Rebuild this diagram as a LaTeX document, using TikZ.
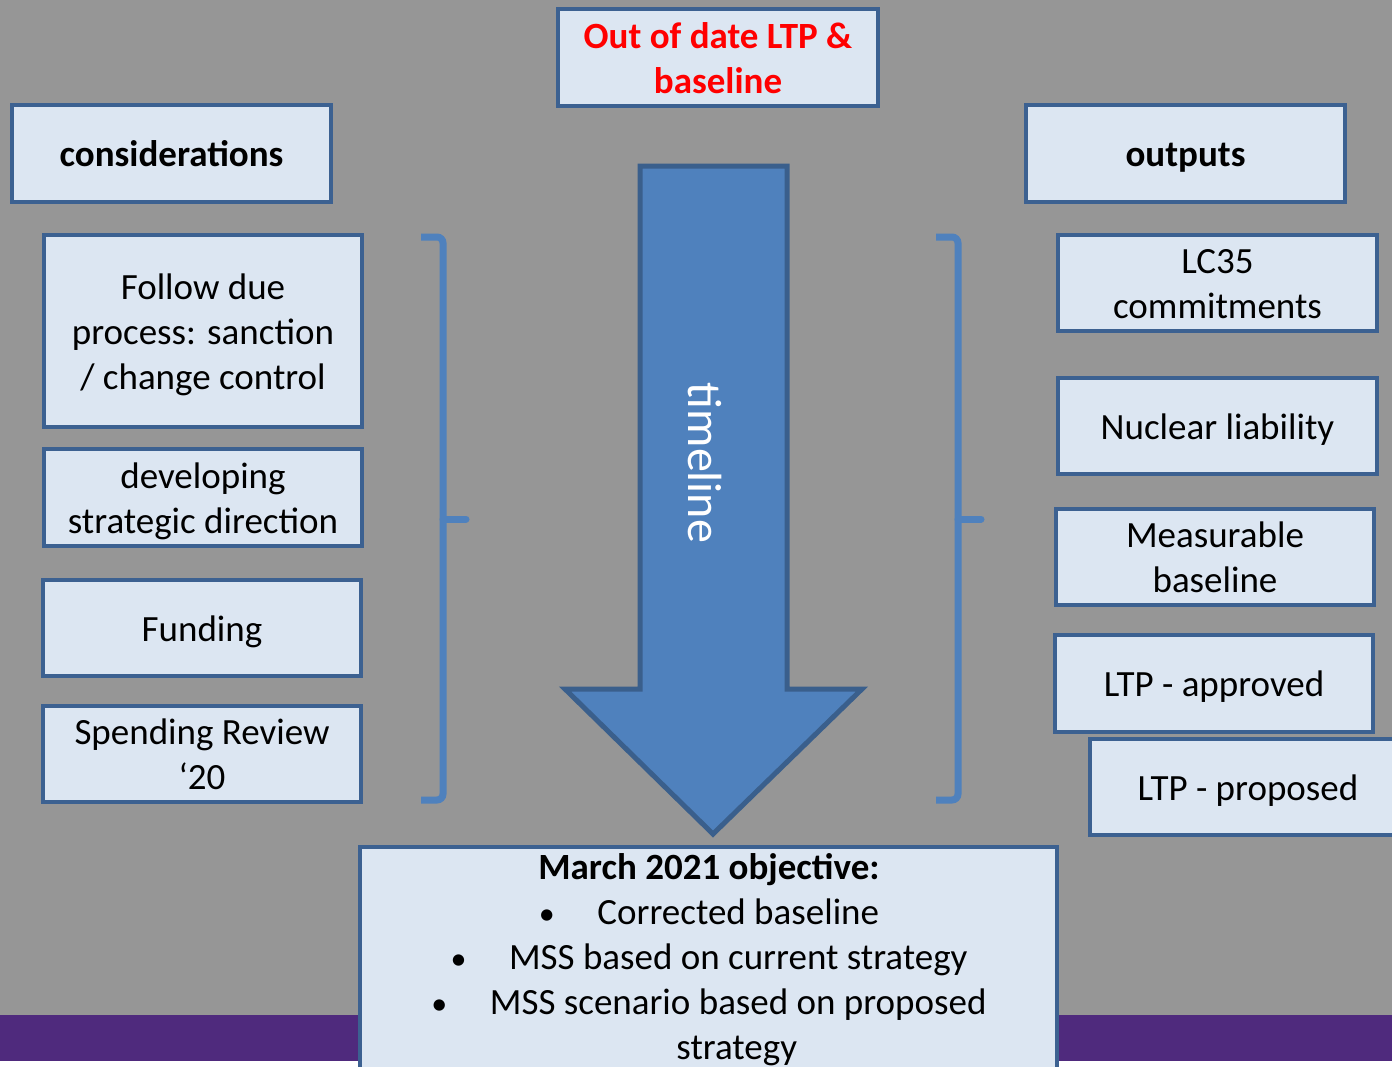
\documentclass[tikz,border=0pt]{standalone}
\usepackage{fontspec}
\setmainfont{Carlito}
\definecolor{bggray}{HTML}{969696}
\definecolor{boxfill}{HTML}{DCE6F2}
\definecolor{boxline}{HTML}{3C6191}
\definecolor{arrowfill}{HTML}{4F81BD}
\definecolor{arrowline}{HTML}{3A5F8C}
\definecolor{barpurple}{HTML}{4F2A7D}
\begin{document}
\begin{tikzpicture}[x=1pt,y=-1pt,
  box/.style={draw=boxline,fill=boxfill,line width=4pt,inner sep=0pt,
    align=flush center,text width=300pt,font=\fontsize{37}{45}\selectfont,
    execute at begin node={\rule{0pt}{35.5pt}},
    execute at end node={\rule[-9.5pt]{0pt}{9.5pt}}},
  brace/.style={draw=arrowfill,line width=7pt,rounded corners=6pt,line cap=butt}]
\useasboundingbox (0,0) rectangle (1392,1066);
\clip (0,0) rectangle (1392,1066);
% background and footer band
\fill[bggray] (0,0) rectangle (1392,1066);
\fill[barpurple] (0,1015) rectangle (1392,1061);
\fill[white] (0,1061) rectangle (1392,1066);

% header boxes
\node[box,minimum width=320pt,minimum height=97pt,text=red,font=\fontsize{37}{45}\selectfont\bfseries]
  (ood) at (718,57.5) {Out of date LTP \&\\baseline};
\node[box,minimum width=319pt,minimum height=97pt,font=\fontsize{37}{45}\selectfont\bfseries]
  (cons) at (171.5,153.5) {considerations};
\node[box,minimum width=319pt,minimum height=97pt,font=\fontsize{37}{45}\selectfont\bfseries]
  (outs) at (1185.5,153.5) {outputs};

% considerations column
\node[box,minimum width=318pt,minimum height=192pt] (due) at (203,331)
  {Follow due\\process: sanction\\/ change control};
\node[box,minimum width=318pt,minimum height=97pt] (dev) at (203,497.5)
  {developing\\strategic direction};
\node[box,minimum width=318pt,minimum height=96pt] (fund) at (202,628)
  {Funding};
\node[box,minimum width=318pt,minimum height=96pt] (spend) at (202,754)
  {Spending Review\\‘20};

% outputs column
\node[box,minimum width=319pt,minimum height=96pt] (lc) at (1217.5,283)
  {LC35\\commitments};
\node[box,minimum width=319pt,minimum height=96pt] (nuc) at (1217.5,426)
  {Nuclear liability};
\node[box,minimum width=318pt,minimum height=96pt] (meas) at (1215,557)
  {Measurable\\baseline};
\node[box,minimum width=318pt,minimum height=97pt] (appr) at (1214,683.5)
  {LTP - approved};
\node[box,minimum width=316pt,minimum height=96pt] (prop) at (1248,787)
  {LTP - proposed};

% timeline arrow
\draw[fill=arrowfill,draw=arrowline,line width=5pt,line join=miter]
  (640,166) -- (787,166) -- (787,689) -- (862,689) -- (713,834)
  -- (565,689) -- (640,689) -- cycle;
\node[rotate=-90,text=white,font=\fontsize{48}{56}\selectfont,inner sep=0pt]
  (tl) at (705,463) {timeline};

% brackets
\draw[brace] (421,237) -- (443,237) -- (443,800) -- (421,800);
\draw[brace,line cap=round] (443,519) -- (466,519);
\draw[brace] (936,237) -- (958,237) -- (958,800) -- (936,800);
\draw[brace,line cap=round] (958,519) -- (981,519);

% objective box
\node[box,minimum width=697pt,minimum height=260pt] (objbox) at (708.5,977) {};
\node[anchor=north,inner sep=0pt,align=center,font=\fontsize{37}{45}\selectfont]
  (objtxt) at (709,853)
  {\textbf{March 2021 objective:}\\
   {\fontsize{32}{45}\selectfont •}\hspace{1.15em}Corrected baseline\\
   {\fontsize{32}{45}\selectfont •}\hspace{1.15em}MSS based on current strategy\\
   {\fontsize{32}{45}\selectfont •}\hspace{1.15em}MSS scenario based on proposed\\
   \hspace*{1.5em}strategy};
\end{tikzpicture}
\end{document}
